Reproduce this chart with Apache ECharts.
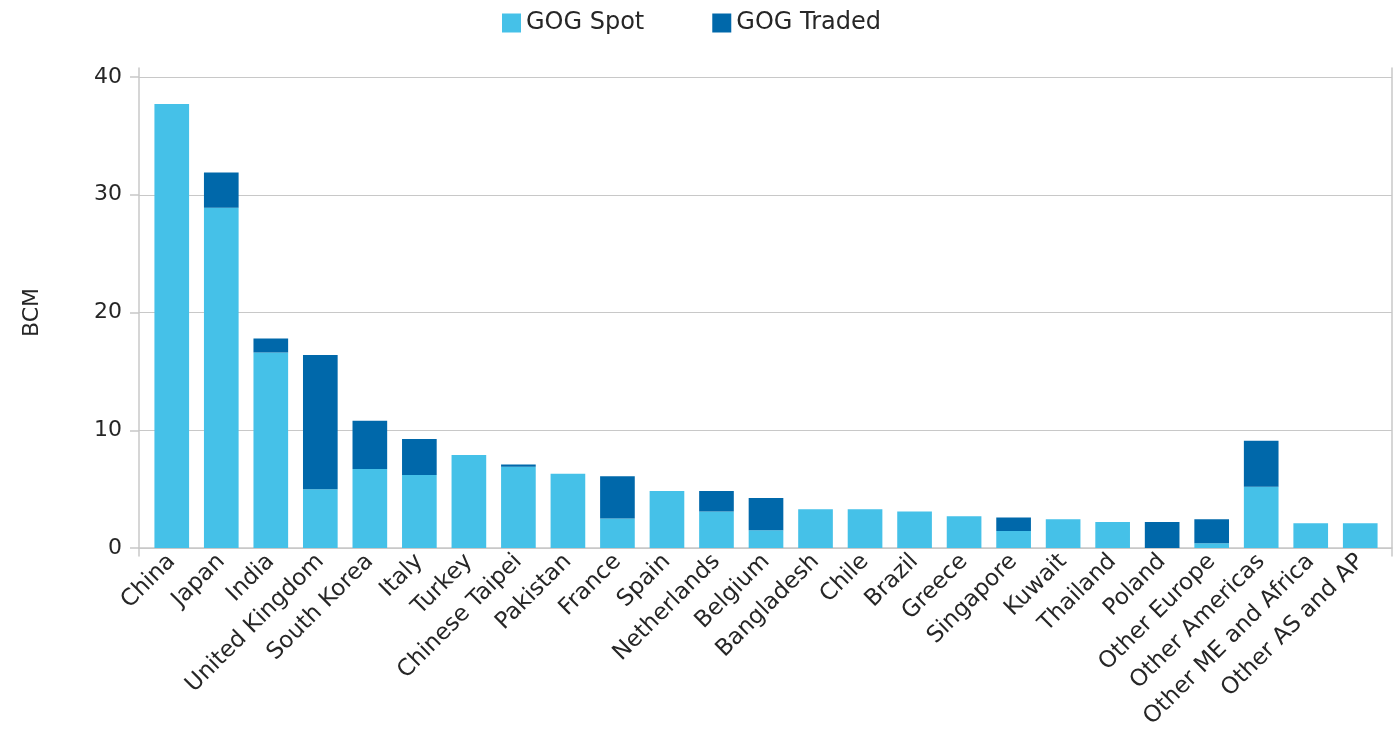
<!DOCTYPE html>
<html>
<head>
<meta charset="utf-8">
<style>
  html, body { margin: 0; padding: 0; background: #fff; }
  #chart { width: 1399px; height: 733px; }
</style>
<script src="https://cdn.jsdelivr.net/npm/echarts@6/dist/echarts.min.js"></script>
</head>
<body>
<div id="chart"></div>
<script>
// 国家/地区
const countries = ['China', 'Japan', 'India', 'United Kingdom', 'South Korea', 'Italy', 'Turkey',
  'Chinese Taipei', 'Pakistan', 'France', 'Spain', 'Netherlands', 'Belgium', 'Bangladesh', 'Chile',
  'Brazil', 'Greece', 'Singapore', 'Kuwait', 'Thailand', 'Poland', 'Other Europe', 'Other Americas',
  'Other ME and Africa', 'Other AS and AP']
// GOG Spot (BCM)
const spot = [37.7, 28.9, 16.6, 5.0, 6.7, 6.2, 7.9, 6.9, 6.3, 2.5, 4.85, 3.1, 1.5, 3.3, 3.3,
  3.1, 2.7, 1.45, 2.45, 2.2, 0, 0.4, 5.2, 2.1, 2.1]
// GOG Traded (BCM)
const traded = [0, 3.0, 1.2, 11.4, 4.1, 3.05, 0, 0.2, 0, 3.6, 0, 1.75, 2.75, 0, 0,
  0, 0, 1.15, 0, 0, 2.2, 2.05, 3.9, 0, 0]

const chart = echarts.init(document.getElementById('chart'))
const font = '"DejaVu Sans", Verdana, sans-serif'
const textColor = '#262626'
const lineColor = '#c8c8c8'

// 三个网格: 0 = 外框竖线, 1 = 刻度与网格线, 2 = 柱子
const option = {
  animation: false,
  textStyle: { fontFamily: font },
  legend: {
    top: 6,
    left: 497,
    itemWidth: 19,
    itemHeight: 19,
    itemGap: 68,
    icon: 'rect',
    textStyle: { fontSize: 24, color: textColor, fontFamily: font },
    data: ['GOG Spot', 'GOG Traded']
  },
  grid: [
    { left: 139, right: 7, top: 68, bottom: 177 },
    { left: 139, right: 7, top: 77, bottom: 185 },
    { left: 147, right: 14, top: 77, bottom: 185 }
  ],
  xAxis: [{
    gridIndex: 0,
    type: 'value',
    show: false
  }, {
    gridIndex: 1,
    type: 'category',
    data: countries,
    axisLine: { lineStyle: { color: lineColor, width: 1.5 } },
    axisTick: { show: false },
    axisLabel: { show: false }
  }, {
    gridIndex: 2,
    type: 'category',
    data: countries,
    axisLine: { show: false },
    axisTick: { show: false },
    axisLabel: {
      rotate: 45,
      interval: 0,
      fontSize: 23,
      color: textColor,
      margin: 10,
      fontFamily: font
    }
  }],
  yAxis: [{
    gridIndex: 0,
    type: 'value',
    position: 'left',
    axisLine: { show: true, lineStyle: { color: lineColor, width: 1.5 } },
    axisTick: { show: false },
    axisLabel: { show: false },
    splitLine: { show: false }
  }, {
    gridIndex: 0,
    type: 'value',
    position: 'right',
    axisLine: { show: true, lineStyle: { color: lineColor, width: 1.5 } },
    axisTick: { show: false },
    axisLabel: { show: false },
    splitLine: { show: false }
  }, {
    gridIndex: 1,
    type: 'value',
    min: 0,
    max: 40,
    interval: 10,
    name: 'BCM',
    nameLocation: 'middle',
    nameGap: 96,
    nameTextStyle: { fontSize: 22, color: textColor, fontFamily: font },
    axisLine: { show: false },
    axisTick: { show: true, length: 9, lineStyle: { color: lineColor, width: 1.5 } },
    axisLabel: { fontSize: 22, color: textColor, margin: 17, fontFamily: font },
    splitLine: { lineStyle: { color: lineColor, width: 1.2 } }
  }, {
    gridIndex: 2,
    type: 'value',
    min: 0,
    max: 40,
    show: false
  }],
  series: [{
    name: 'GOG Spot',
    type: 'bar',
    stack: 'gog',
    xAxisIndex: 2,
    yAxisIndex: 3,
    barWidth: '70%',
    itemStyle: { color: '#45c1e8' },
    data: spot
  }, {
    name: 'GOG Traded',
    type: 'bar',
    stack: 'gog',
    xAxisIndex: 2,
    yAxisIndex: 3,
    barWidth: '70%',
    itemStyle: { color: '#0068aa' },
    data: traded
  }]
}
chart.setOption(option)
</script>
</body>
</html>
